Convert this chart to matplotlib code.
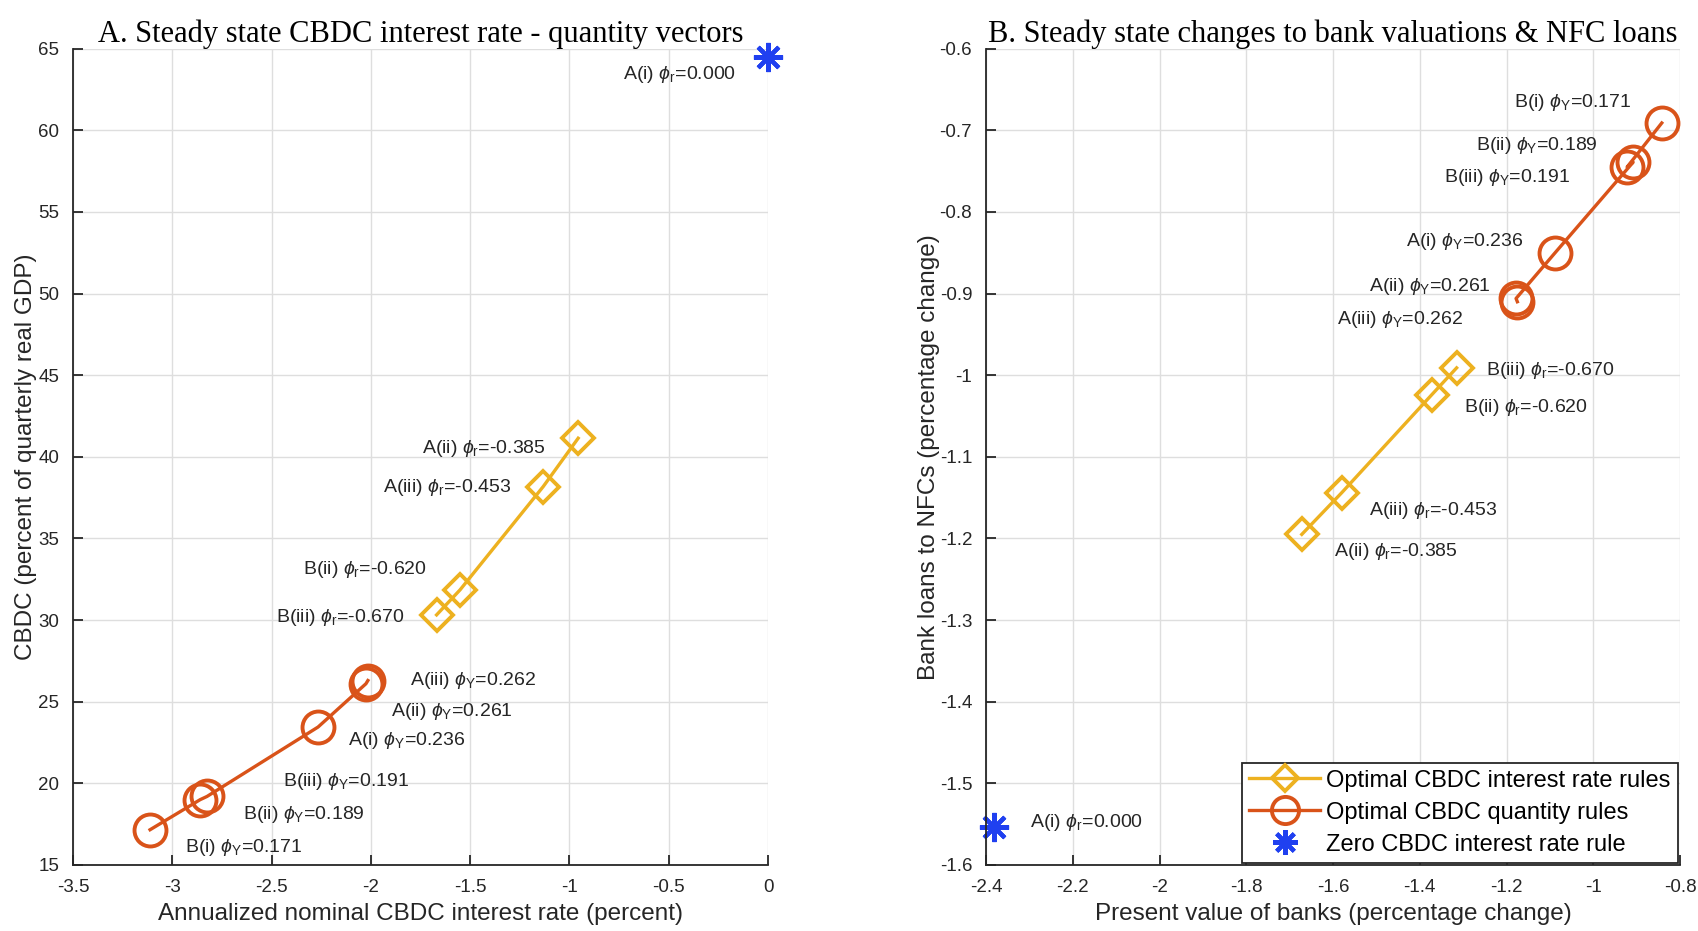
import matplotlib
matplotlib.use('Agg')
import matplotlib.pyplot as plt
from matplotlib.ticker import FuncFormatter

plt.rcParams['font.family'] = ['Liberation Sans', 'DejaVu Sans']
plt.rcParams['mathtext.fontset'] = 'custom'
plt.rcParams['mathtext.rm'] = 'Liberation Sans'
plt.rcParams['mathtext.it'] = 'Liberation Sans:italic'

YELLOW = '#EDB120'
RED = '#D95319'
BLUE = '#2040F0'
TXT = '#262626'

# ---- data: panel A (CBDC rate vs CBDC quantity) ----
rate_rule_names = ['A(ii)', 'A(iii)', 'B(ii)', 'B(iii)']
rate_rule_phi = ['-0.385', '-0.453', '-0.620', '-0.670']
a_rate_x = [-0.956, -1.132, -1.551, -1.669]
a_rate_y = [41.14, 38.18, 31.85, 30.32]

qty_rule_names = ['B(i)', 'B(ii)', 'B(iii)', 'A(i)', 'A(ii)', 'A(iii)']
qty_rule_phi = ['0.171', '0.189', '0.191', '0.236', '0.261', '0.262']
a_qty_x = [-3.112, -2.860, -2.825, -2.266, -2.025, -2.015]
a_qty_y = [17.16, 19.00, 19.20, 23.45, 26.10, 26.30]

zero_name = 'A(i)'
zero_phi = '0.000'
a_zero_x = [0.0]
a_zero_y = [64.47]

# ---- data: panel B (bank valuations vs NFC loans) ----
b_rate_x = [-1.672, -1.580, -1.3725, -1.315]
b_rate_y = [-1.195, -1.144, -1.024, -0.991]

b_qty_x = [-0.842, -0.922, -0.908, -1.088, -1.178, -1.175]
b_qty_y = [-0.691, -0.745, -0.739, -0.850, -0.906, -0.910]

b_zero_x = [-2.382]
b_zero_y = [-1.553]

# label offsets in pixels (dx, dy), per point
a_rate_off = [(-32, -10), (-32, -1), (-33, 20), (-32, -3)]
a_qty_off = [(35, -18), (43, -15), (76, 15), (30, -13), (25, -28), (42, 0)]
a_zero_off = (-32, -17)
b_rate_off = [(32, -17), (27, -18), (32, -13), (29, -3)]
b_qty_off = [(-30, 20), (-29, 22), (-63, -15), (-32, 11), (-25, 12), (-54, -18)]
b_zero_off = (36, 4)

fig = plt.figure(figsize=(16.98, 9.31), dpi=100)
ax1 = fig.add_axes([0.043, 0.0709, 0.4093, 0.8768])
ax2 = fig.add_axes([0.5807, 0.0709, 0.4087, 0.8768])

rate_style = dict(color=YELLOW, marker='D', markersize=16, markeredgewidth=2.8,
                  markerfacecolor='none', linewidth=2.4)
qty_style = dict(color=RED, marker='o', markersize=23, markeredgewidth=2.8,
                 markerfacecolor='none', linewidth=2.4)
zero_style = dict(color=BLUE, marker=(8, 2, 0), markersize=21, markeredgewidth=3.0,
                  linestyle='none')


def lab(name, phi, sub):
    return name + r' $\phi_{\mathrm{' + sub + '}}$=' + phi


def annotate(ax, xs, ys, names, phis, sub, offs, ha):
    for x, y, n, p, o in zip(xs, ys, names, phis, offs):
        ax.annotate(lab(n, p, sub), xy=(x, y), xytext=o, textcoords='offset pixels',
                    ha=ha, va='center', fontsize=14, color=TXT)


def style_axes(ax):
    ax.grid(True, color='#dedede', linewidth=1.0)
    ax.set_axisbelow(True)
    for s in ['top', 'right']:
        ax.spines[s].set_visible(False)
    for s in ['left', 'bottom']:
        ax.spines[s].set_color(TXT)
        ax.spines[s].set_linewidth(1.3)
    ax.tick_params(direction='in', length=7, width=1.3, labelsize=13.5,
                   colors=TXT, pad=10)


# ---- panel A ----
ax1.plot(a_rate_x, a_rate_y, label='Optimal CBDC interest rate rules', **rate_style)
ax1.plot(a_qty_x, a_qty_y, label='Optimal CBDC quantity rules', **qty_style)
ax1.plot(a_zero_x, a_zero_y, label='Zero CBDC interest rate rule', clip_on=False, **zero_style)
annotate(ax1, a_rate_x, a_rate_y, rate_rule_names, rate_rule_phi, 'r', a_rate_off, 'right')
annotate(ax1, a_qty_x, a_qty_y, qty_rule_names, qty_rule_phi, 'Y', a_qty_off, 'left')
annotate(ax1, a_zero_x, a_zero_y, [zero_name], [zero_phi], 'r', [a_zero_off], 'right')
ax1.set_xlim(-3.5, 0)
ax1.set_ylim(15, 65)
ax1.set_xticks([-3.5, -3, -2.5, -2, -1.5, -1, -0.5, 0])
ax1.set_yticks(range(15, 66, 5))
ax1.xaxis.set_major_formatter(FuncFormatter(lambda v, p: '%g' % v))
style_axes(ax1)
ax1.set_xlabel('Annualized nominal CBDC interest rate (percent)', fontsize=17.5, color=TXT, labelpad=5)
ax1.set_ylabel('CBDC (percent of quarterly real GDP)', fontsize=17.5, color=TXT, labelpad=1)
ax1.set_title('A. Steady state CBDC interest rate - quantity vectors',
              fontsize=22, family='Liberation Serif', pad=5)

# ---- panel B ----
ax2.plot(b_rate_x, b_rate_y, label='Optimal CBDC interest rate rules', **rate_style)
ax2.plot(b_qty_x, b_qty_y, label='Optimal CBDC quantity rules', **qty_style)
ax2.plot(b_zero_x, b_zero_y, label='Zero CBDC interest rate rule', clip_on=False, **zero_style)
annotate(ax2, b_rate_x, b_rate_y, rate_rule_names, rate_rule_phi, 'r', b_rate_off, 'left')
annotate(ax2, b_qty_x, b_qty_y, qty_rule_names, qty_rule_phi, 'Y', b_qty_off, 'right')
annotate(ax2, b_zero_x, b_zero_y, [zero_name], [zero_phi], 'r', [b_zero_off], 'left')
ax2.set_xlim(-2.4, -0.8)
ax2.set_ylim(-1.6, -0.6)
ax2.set_xticks([-2.4, -2.2, -2.0, -1.8, -1.6, -1.4, -1.2, -1.0, -0.8])
ax2.set_yticks([-1.6, -1.5, -1.4, -1.3, -1.2, -1.1, -1.0, -0.9, -0.8, -0.7, -0.6])
fmt = FuncFormatter(lambda v, p: '%g' % round(v, 2))
ax2.xaxis.set_major_formatter(fmt)
ax2.yaxis.set_major_formatter(fmt)
style_axes(ax2)
ax2.set_xlabel('Present value of banks (percentage change)', fontsize=17.5, color=TXT, labelpad=5)
ax2.set_ylabel('Bank loans to NFCs (percentage change)', fontsize=17.5, color=TXT, labelpad=0)
ax2.set_title('B. Steady state changes to bank valuations & NFC loans',
              fontsize=22, family='Liberation Serif', pad=5)

leg = ax2.legend(loc='lower right', fontsize=17, frameon=True, fancybox=False,
                 borderaxespad=0.1, handlelength=3.0, handletextpad=0.25,
                 labelspacing=0.42, borderpad=0.3, markerscale=0.85)
leg.get_frame().set_edgecolor(TXT)
leg.get_frame().set_linewidth(1.3)
leg.get_frame().set_alpha(1)

fig.savefig('out.png', dpi=100)
